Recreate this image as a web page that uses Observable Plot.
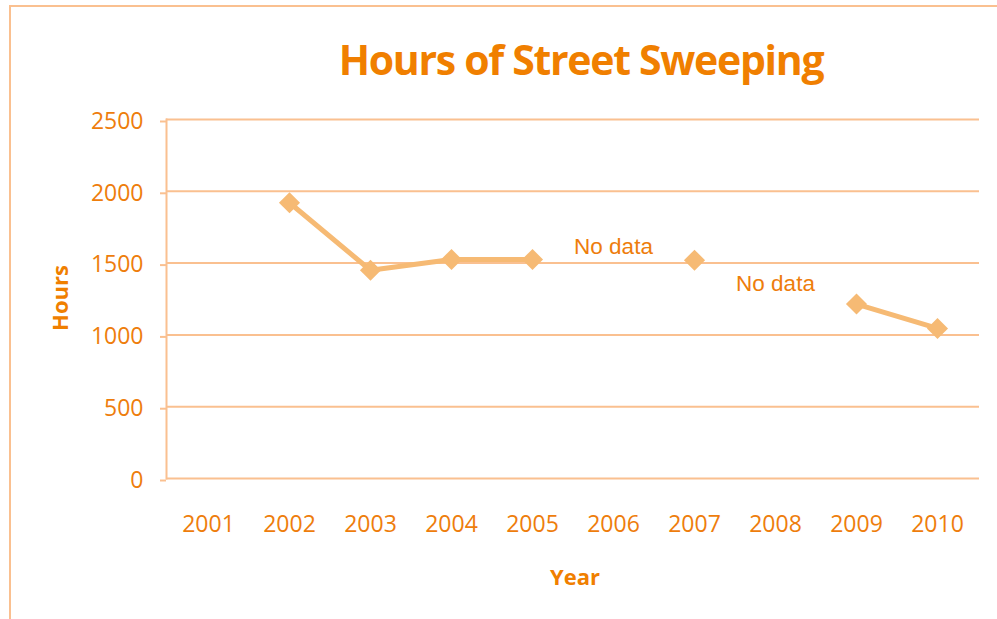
<!DOCTYPE html>
<html>
<head>
<meta charset="utf-8">
<script src="https://cdn.jsdelivr.net/npm/d3@7"></script>
<script src="https://cdn.jsdelivr.net/npm/@observablehq/plot@0.6"></script>
<style>
  html, body { margin: 0; padding: 0; background: #fff; }
  #wrap { position: relative; width: 997px; height: 619px; overflow: hidden; font-family: "Open Sans", sans-serif; }
  #border { position: absolute; left: 9px; top: 5px; right: -4px; bottom: -4px; border-top: 2px solid #fac090; border-left: 2px solid #fac090; }
  #chart { position: absolute; left: 0; top: 0; }
  .lbl { position: absolute; font-weight: 700; color: #f07f00; white-space: nowrap; line-height: 1; }
  #title { left: 581px; top: 39px; transform: translateX(-50%); font-size: 41px; letter-spacing: -1.3px; }
  #xlab { left: 575px; top: 565px; transform: translateX(-50%); font-size: 22px; }
  #ylab { left: 59px; top: 298px; transform: translate(-50%, -50%) rotate(-90deg); font-size: 22px; }
</style>
</head>
<body>
<div id="wrap">
  <div id="border"></div>
  <div id="chart"></div>
  <div id="title" class="lbl">Hours of Street Sweeping</div>
  <div id="ylab" class="lbl">Hours</div>
  <div id="xlab" class="lbl">Year</div>
</div>
<script>
const years = ["2001", "2002", "2003", "2004", "2005", "2006", "2007", "2008", "2009", "2010"];
const hours = [null, 1920, 1450, 1525, 1525, null, 1520, null, 1215, 1045];
const yTicks = [0, 500, 1000, 1500, 2000, 2500];
const noDataYears = ["2006", "2008"];
const noDataLevel = [1615, 1355];
const noDataText = "No data";

const textColor = "#ee7d0c";
const gridColor = "#fac090";
const lineColor = "#f6ba74";

const data = years.map((year, i) => ({year, hours: hours[i]}));
const notes = noDataYears.map((year, i) => ({year, level: noDataLevel[i], text: noDataText}));

const chart = Plot.plot({
  width: 997,
  height: 619,
  marginLeft: 166,
  marginRight: 18,
  marginTop: 119,
  marginBottom: 141,
  style: {fontFamily: "Open Sans, sans-serif", fontSize: "23px", background: "transparent", overflow: "visible"},
  x: {type: "point", domain: years, padding: 0.5},
  y: {domain: [0, 2500]},
  marks: [
    Plot.gridY(yTicks, {stroke: gridColor, strokeOpacity: 1, strokeWidth: 2}),
    Plot.axisY(yTicks, {tickSize: 6, tickPadding: 17, tickFormat: d => String(d), stroke: gridColor, strokeOpacity: 1, strokeWidth: 2, fill: textColor, label: null, dy: 2}),
    Plot.axisX({tickSize: 0, tickPadding: 37, fill: textColor, label: null}),
    Plot.frame({anchor: "left", stroke: gridColor, strokeOpacity: 1, strokeWidth: 2}),
    Plot.line(data, {x: "year", y: "hours", stroke: lineColor, strokeWidth: 5}),
    Plot.dot(data.filter(d => d.hours != null), {x: "year", y: "hours", symbol: "diamond2", r: 9.5, fill: lineColor, stroke: "none"}),
    Plot.text(notes, {x: "year", y: "level", text: "text", fill: textColor, fontSize: 22.5, fontFamily: "Liberation Sans, sans-serif"})
  ]
});
document.getElementById("chart").appendChild(chart);
</script>
</body>
</html>
